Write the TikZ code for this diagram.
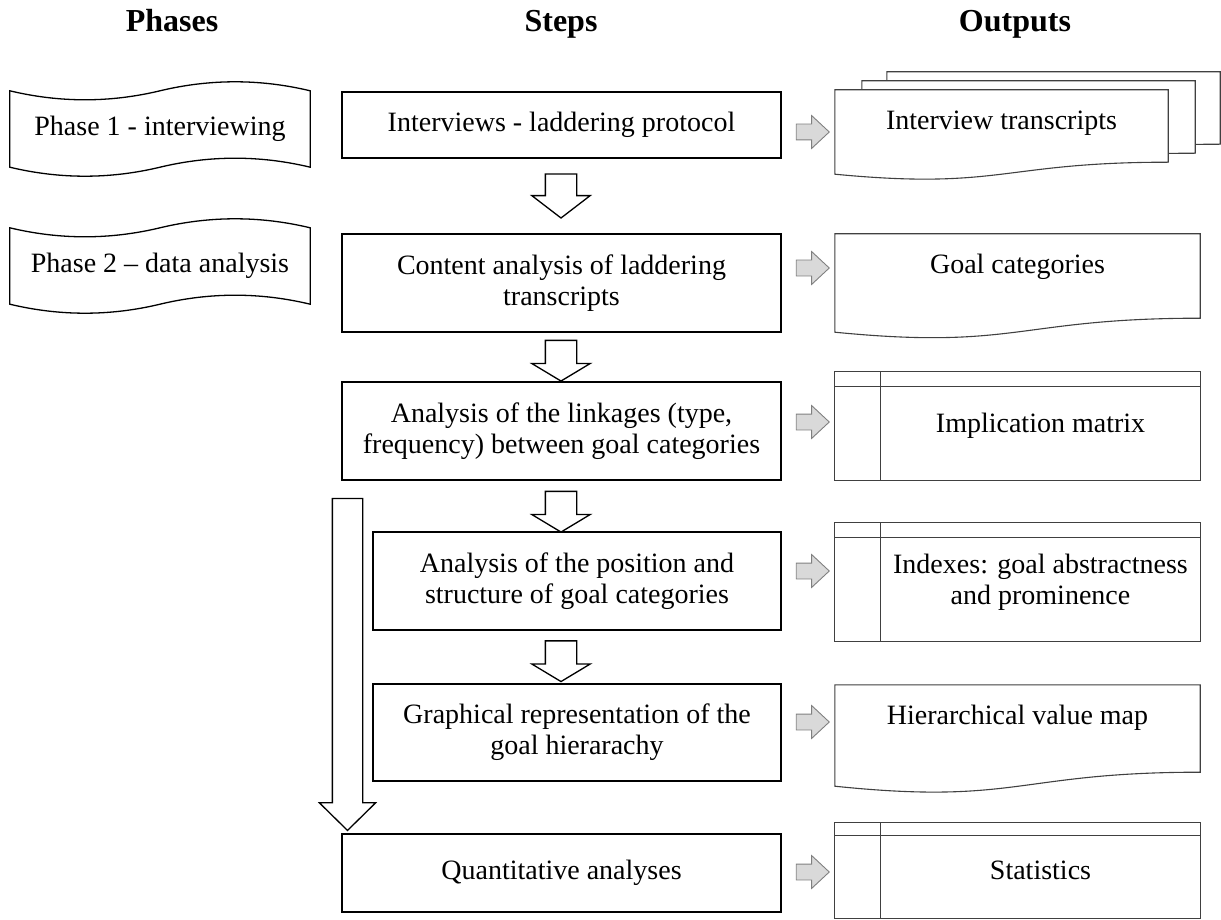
\documentclass[tikz,border=0pt]{standalone}
\usepackage{fontspec}
\setmainfont{Liberation Serif}
\usetikzlibrary{arrows.meta,positioning,shapes.arrows,backgrounds}

\begin{document}
\begin{tikzpicture}[x=1pt,y=-1pt,
  head/.style={font=\bfseries\fontsize{32}{36}\selectfont,inner sep=0pt,anchor=base},
  phase/.style={minimum width=300pt,minimum height=76pt,inner sep=0pt,align=center,font=\fontsize{28}{31}\selectfont},
  stepbox/.style={draw=black,line width=1.8pt,minimum width=439pt,inner sep=0pt,align=center,font=\fontsize{28}{31}\selectfont},
  doctext/.style={minimum width=365pt,minimum height=66pt,inner sep=0pt,align=center,font=\fontsize{28}{31}\selectfont},
  storetext/.style={minimum width=319pt,inner sep=0pt,align=center,font=\fontsize{28}{31}\selectfont},
  downarrow/.style={shape=single arrow,draw=black,fill=white,line width=1.3pt,shape border rotate=270,inner sep=15pt,single arrow head extend=13.5pt,single arrow tip angle=118,minimum height=32pt},
  outarrow/.style={shape=single arrow,draw=black!50,fill=black!15,line width=0.9pt,inner sep=7.5pt,single arrow head extend=8.5pt,single arrow tip angle=86,minimum height=33pt},
  tapeline/.style={draw=black,line width=1.3pt},
  docline/.style={draw=black!75,fill=white,line width=1.1pt},
  storeline/.style={draw=black!75,line width=1.1pt}]
\useasboundingbox (0,0) rectangle (1221,920);

% column titles
\node[head] (hp) at (172,32) {Phases};
\node[head] (hs) at (561,32) {Steps};
\node[head] (ho) at (1015,32) {Outputs};

% phases
\node[phase] (p1) at (160,129) {Phase 1 - interviewing};
\node[phase] (p2) at (160,266) {Phase 2 – data analysis};

% steps
\node[stepbox,minimum height=66pt] (s1) at (561.5,125) {Interviews - laddering protocol};
\node[stepbox,minimum height=98pt] (s2) at (561.5,283) {Content analysis of laddering\\transcripts};
\node[stepbox,minimum height=98pt] (s3) at (561.5,431) {Analysis of the linkages (type,\\frequency) between goal categories};
\node[stepbox,minimum width=408pt,minimum height=98pt] (s4) at (577,581) {Analysis of the position and\\structure of goal categories};
\node[stepbox,minimum width=408pt,minimum height=97pt] (s5) at (577,732.5) {Graphical representation of the\\goal hierarachy};
\node[stepbox,minimum height=78pt] (s6) at (561.5,873) {Quantitative analyses};

\node[downarrow,minimum height=44pt,single arrow tip angle=105] (a12) at (561,190) {};
\node[downarrow] (a23) at (561,356) {};
\node[downarrow] (a34) at (561,507) {};
\node[downarrow] (a45) at (561,656.5) {};
\node[downarrow,inner sep=14.5pt,single arrow head extend=13pt,single arrow tip angle=91,minimum height=332pt] (a36) at (347.5,657) {};

% outputs
\node[outarrow] (r1) at (808.5,132) {};
\node[outarrow] (r2) at (808.5,268) {};
\node[outarrow] (r3) at (808.5,422) {};
\node[outarrow] (r4) at (808.5,571) {};
\node[outarrow] (r5) at (808.5,722) {};
\node[outarrow] (r6) at (808.5,872) {};

\node[doctext,minimum width=333pt] (o1) at (1001.5,123) {Interview transcripts};
\node[doctext] (o2) at (1017.5,267) {Goal categories};
\node[storetext,minimum height=108pt] (o3) at (1040.5,426) {Implication matrix};
\node[storetext,minimum height=118pt] (o4) at (1040.5,582) {Indexes: goal abstractness\\and prominence};
\node[doctext] (o5) at (1017.5,718) {Hierarchical value map};
\node[storetext,minimum height=95pt] (o6) at (1040.5,870.5) {Statistics};

\begin{scope}[on background layer]
\foreach \p in {p1,p2}
  \draw[tapeline] (\p.north west) .. controls +(50,12) and +(-50,12) .. (\p.north)
    .. controls +(50,-12) and +(-50,-12) .. (\p.north east) -- (\p.south east)
    .. controls +(-50,-12) and +(50,-12) .. (\p.south)
    .. controls +(-50,12) and +(50,12) .. (\p.south west) -- cycle;
\foreach \d/\dx/\dy/\r/\c/\l in {o1/52/-18/6/34/18,o1/27/-9/6/34/18,o1/0/0/6/34/18,o2/0/0/18/50/32,o5/0/0/21/54/35}
  \draw[docline] ([shift={(\dx,\dy)}]\d.north west) -- ([shift={(\dx,\dy)}]\d.north east)
    -- ([shift={(\dx,\dy+\r)}]\d.south east)
    .. controls ([shift={(\dx,\dy+\r)}]\d.south) and ([shift={(\dx,\dy+\c)}]\d.south)
    .. ([shift={(\dx,\dy+\l)}]\d.south west) -- cycle;
\foreach \s/\h in {o3/15,o4/15,o6/13}{
  \draw[storeline] ([xshift=-46pt]\s.north west) rectangle (\s.south east);
  \draw[storeline] ([xshift=-46pt,yshift=-\h pt]\s.north west) -- ([yshift=-\h pt]\s.north east)
    (\s.north west) -- (\s.south west);
}
\end{scope}
\end{tikzpicture}
\end{document}
